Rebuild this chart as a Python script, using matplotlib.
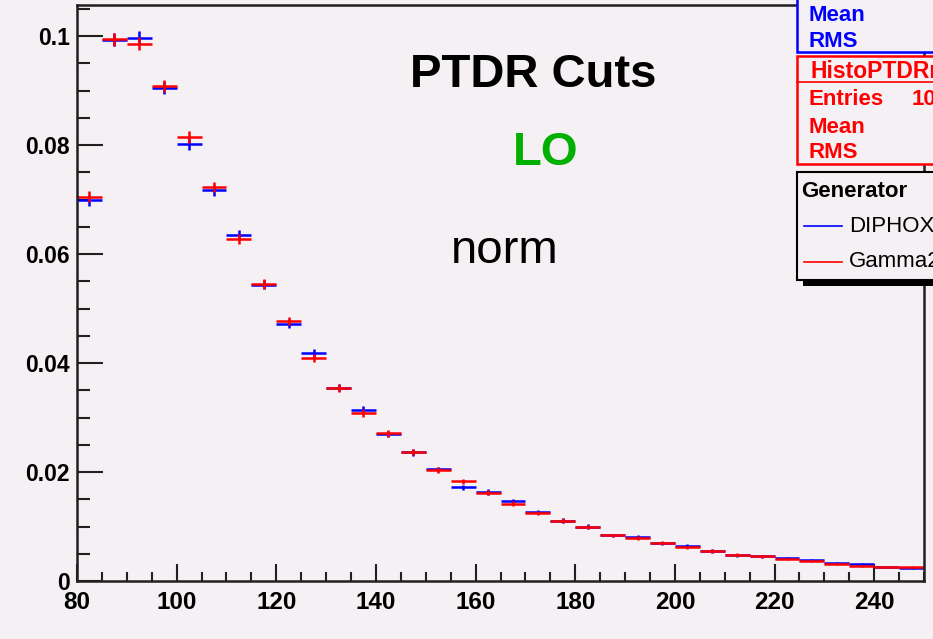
import matplotlib
matplotlib.use('Agg')
import matplotlib.pyplot as plt
from matplotlib.patches import Rectangle
from matplotlib.lines import Line2D
import numpy as np

# bin low edges, 5 GeV wide
bin_lo = [80, 85, 90, 95, 100, 105, 110, 115, 120, 125, 130, 135, 140, 145,
          150, 155, 160, 165, 170, 175, 180, 185, 190, 195, 200, 205, 210,
          215, 220, 225, 230, 235, 240, 245]
bin_width = 5

diphox = [0.0699, 0.0993, 0.0997, 0.0905, 0.0802, 0.0717, 0.0635, 0.0544,
          0.0472, 0.0418, 0.0355, 0.0314, 0.0270, 0.0236, 0.0205, 0.0172,
          0.0163, 0.0147, 0.0127, 0.0111, 0.0100, 0.0084, 0.0081, 0.0069,
          0.0065, 0.0055, 0.0047, 0.0045, 0.0042, 0.0039, 0.0033, 0.0031,
          0.0025, 0.0024]
gamma2 = [0.0705, 0.0994, 0.0986, 0.0909, 0.0814, 0.0723, 0.0628, 0.0545,
          0.0477, 0.0409, 0.0354, 0.0308, 0.0271, 0.0237, 0.0204, 0.0183,
          0.0162, 0.0142, 0.0125, 0.0111, 0.0099, 0.0084, 0.0079, 0.0070,
          0.0062, 0.0055, 0.0048, 0.0045, 0.0040, 0.0037, 0.0031, 0.0028,
          0.0025, 0.0025]
errors = [0.0010, 0.0012, 0.0012, 0.0011, 0.0011, 0.0010, 0.0009, 0.0009,
          0.0008, 0.0008, 0.0007, 0.0007, 0.0006, 0.0006, 0.0005, 0.0005,
          0.0005, 0.0004, 0.0004, 0.0004, 0.0004, 0.0003, 0.0003, 0.0003,
          0.0003, 0.0003, 0.0003, 0.0002, 0.0002, 0.0002, 0.0002, 0.0002,
          0.0002, 0.0002]

W, H = 933, 639
bg = '#f4f0f4'
font = 'Liberation Sans'
plt.rcParams['font.family'] = [font, 'DejaVu Sans']


def fx(x):
    return x / W


def fy(y):
    return 1 - y / H


fig = plt.figure(figsize=(W / 100, H / 100), dpi=100, facecolor=bg)
ax = fig.add_axes([fx(77), fy(581), fx(924) - fx(77), fy(5) - fy(581)])
ax.set_facecolor(bg)

centers = np.array(bin_lo) + bin_width / 2
ax.errorbar(centers, diphox, xerr=bin_width / 2, yerr=errors, fmt='none',
            ecolor='#0000ff', elinewidth=1.8, capsize=0)
ax.errorbar(centers, gamma2, xerr=bin_width / 2, yerr=errors, fmt='none',
            ecolor='#ff0000', elinewidth=1.8, capsize=0)

ax.set_xlim(80, 250)
ax.set_ylim(0, 0.1057)
ax.set_xticks(np.arange(80, 241, 20))
ax.set_xticks(np.arange(80, 251, 5), minor=True)
ax.set_yticks([0, 0.02, 0.04, 0.06, 0.08, 0.1])
ax.set_yticklabels(['0', '0.02', '0.04', '0.06', '0.08', '0.1'])
ax.set_yticks(np.arange(0, 0.1051, 0.005), minor=True)

ax.tick_params(axis='both', which='both', direction='in', width=1.5,
               color='#202020', top=False, right=False)
ax.tick_params(axis='y', which='major', length=18.5, pad=5, labelsize=16.5)
ax.tick_params(axis='y', which='minor', length=9.5)
ax.tick_params(axis='x', which='major', length=12, pad=7, labelsize=17.5)
ax.tick_params(axis='x', which='minor', length=6.5)
for lab in ax.get_xticklabels() + ax.get_yticklabels():
    lab.set_fontweight('bold')
for s in ax.spines.values():
    s.set_linewidth(1.8)
    s.set_color('#202020')

# titles inside the pad
fig.text(fx(533), fy(87), 'PTDR Cuts', fontsize=34, fontweight='bold',
         ha='center', va='baseline')
fig.text(fx(546), fy(165), 'LO', fontsize=34, fontweight='bold',
         color='#00b000', ha='center', va='baseline')
fig.text(fx(505), fy(263), 'norm', fontsize=34, ha='center',
         va='baseline')


# stat boxes (cut off at the right edge, as in the original canvas)
def box(x0, y0, x1, y1, ec, fc=bg, lw=1.8, z=5):
    r = Rectangle((fx(x0), fy(y1)), fx(x1) - fx(x0), fy(y0) - fy(y1),
                  transform=fig.transFigure, facecolor=fc, edgecolor=ec,
                  linewidth=lw, zorder=z)
    fig.add_artist(r)
    return r


box(797, -20, 960, 52, '#0000ff')
fig.text(fx(808), fy(21), 'Mean', color='#0000ff', fontsize=16,
         fontweight='bold', va='baseline', zorder=6)
fig.text(fx(808), fy(47), 'RMS', color='#0000ff', fontsize=16,
         fontweight='bold', va='baseline', zorder=6)

box(797, 56, 960, 164, '#ff0000')
fig.add_artist(Line2D([fx(797), fx(960)], [fy(82), fy(82)],
                      transform=fig.transFigure, color='#ff0000', lw=1.2,
                      zorder=6))
fig.text(fx(810), fy(78), 'HistoPTDRnorm', color='#ff0000', fontsize=16.5,
         fontweight='bold', va='baseline', zorder=6)
red_rows = [('Entries', 105), ('Mean', 133), ('RMS', 158)]
for name, yb in red_rows:
    fig.text(fx(808), fy(yb), name, color='#ff0000', fontsize=16,
             fontweight='bold', va='baseline', zorder=6)
fig.text(fx(912), fy(105), '10', color='#ff0000', fontsize=16,
         fontweight='bold', va='baseline', zorder=6)

# legend with shadow
box(803, 178, 965, 286, 'none', fc='#000000', lw=0, z=4)
box(797, 172, 960, 280, '#000000', lw=1.5)
fig.text(fx(801), fy(197), 'Generator', fontsize=16, fontweight='bold',
         va='baseline', zorder=6)
leg_rows = [('DIPHOX', '#0000ff', 226), ('Gamma2jet', '#ff0000', 262)]
for name, col, yc in leg_rows:
    fig.add_artist(Line2D([fx(804), fx(842)], [fy(yc), fy(yc)],
                          transform=fig.transFigure, color=col, lw=1.2,
                          zorder=6))
    fig.text(fx(849), fy(yc), name, fontsize=16, va='center', zorder=6)

fig.savefig('out.png', dpi=100, facecolor=bg)
